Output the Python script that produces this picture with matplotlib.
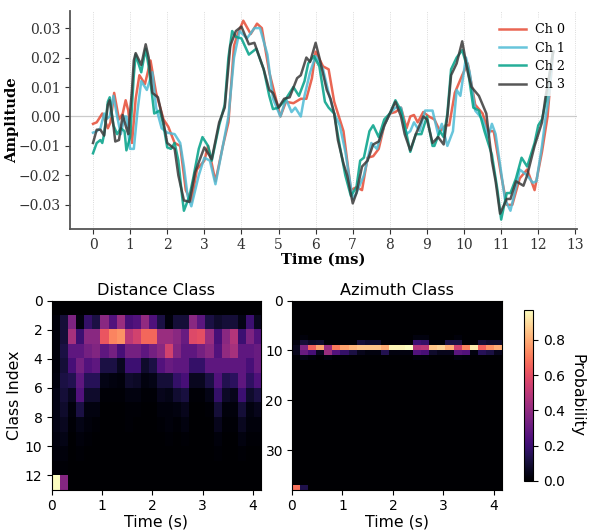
import numpy as np
import matplotlib
matplotlib.use("Agg")
import matplotlib.pyplot as plt

W, H = 598, 530

# waveform (value in 1e-3)
ch0_t = [0, .1, .25, .4, .47, .57, .7, .8, .88, .95, 1.05, 1.15, 1.25, 1.4, 1.55, 1.7, 1.9, 2.03, 2.2, 2.35, 2.5, 2.65, 2.8, 3.0, 3.1, 3.3, 3.5, 3.65, 3.8, 3.9, 4.05, 4.25, 4.42, 4.55, 4.75, 5.05, 5.2, 5.4, 5.6, 5.75, 5.9, 6.0, 6.2, 6.35, 6.5, 6.75, 6.95, 7.1, 7.25, 7.4, 7.55, 7.7, 7.85, 8.0, 8.15, 8.3, 8.45, 8.55, 8.65, 8.75, 8.9, 9.05, 9.2, 9.35, 9.5, 9.6, 9.75, 9.95, 10.1, 10.3, 10.5, 10.65, 10.8, 11.0, 11.15, 11.3, 11.5, 11.7, 11.9, 12.1, 12.25, 12.35, 12.4]
ch0_v = [-2.5, -2, 1, -4, -2, 8, -1, 1, 5.5, 2, -9, 6, 14, 11, 19, 8, -1, -3.5, -9, -10, -25, -29, -18, -15, -10, -22, -10, -2, 24, 28, 32.5, 28, 31.5, 30, 15, 0, 5, 4.5, 6, 6, 13, 22, 17, 16, 5, -5, -25, -24, -25, -14, -13.5, -11, -3, 1, 1.5, 3, -4, 0, .5, -2, 1.5, 0, -1, -5, -3, -3, 8, 14, 18, 4, 1, -5, -5, -20, -30, -30, -21, -18, -25, -12, 0, 15, 22]

ch1_t = [0, .1, .2, .3, .35, .45, .55, .65, .75, .85, .9, 1.0, 1.1, 1.2, 1.3, 1.45, 1.6, 1.7, 1.85, 2.0, 2.2, 2.35, 2.45, 2.55, 2.65, 2.85, 3.0, 3.15, 3.3, 3.5, 3.65, 3.8, 3.95, 4.15, 4.35, 4.5, 4.7, 4.85, 5.05, 5.2, 5.35, 5.45, 5.6, 5.7, 5.85, 6.0, 6.2, 6.35, 6.5, 6.65, 6.8, 7.0, 7.1, 7.3, 7.5, 7.65, 7.85, 8.0, 8.15, 8.3, 8.45, 8.55, 8.65, 8.8, 8.95, 9.15, 9.3, 9.4, 9.55, 9.7, 9.8, 9.9, 10.05, 10.15, 10.3, 10.5, 10.65, 10.75, 10.85, 11.0, 11.1, 11.25, 11.4, 11.5, 11.7, 11.85, 11.95, 12.1, 12.2, 12.3, 12.4]
ch1_v = [-5.5, -5, -4, 1, -1, 0, 7, 0, -6, 0, 0, -11, -11, 2, 12, 9, 15, 3, -4, -5.5, -6, -9, -17, -27, -30.5, -20, -14, -15, -23, -10, 0, 20, 29, 26.5, 30, 30, 21, 6, 0, 6, 1.5, 3, 0, 7, 15, 20.5, 16, 8, 1, -3, -12, -28, -26, -20, -9, -11, -3, 1, 3, 3, -6, -5, -2, -5, 2, 2, -6, -2.5, -10, -5, 9, 7, 20, 15, 2, -1, -7, -2.5, -6, -19, -28, -32, -24, -18, -20, -22.5, -22, -10, 0, 8, 22]

ch2_t = [0, .1, .2, .25, .3, .4, .45, .55, .65, .75, .85, .9, 1.0, 1.1, 1.15, 1.3, 1.42, 1.5, 1.65, 1.8, 1.9, 2.0, 2.1, 2.2, 2.3, 2.4, 2.45, 2.6, 2.7, 2.85, 2.95, 3.1, 3.2, 3.4, 3.55, 3.65, 3.75, 3.85, 4.0, 4.2, 4.3, 4.4, 4.6, 4.75, 4.85, 5.0, 5.2, 5.4, 5.55, 5.7, 5.8, 5.95, 6.1, 6.25, 6.35, 6.5, 6.65, 6.8, 6.95, 7.1, 7.2, 7.3, 7.45, 7.55, 7.7, 7.85, 8.0, 8.15, 8.3, 8.45, 8.55, 8.7, 8.85, 9.0, 9.15, 9.2, 9.35, 9.45, 9.55, 9.65, 9.8, 9.95, 10.1, 10.25, 10.4, 10.55, 10.75, 10.9, 11.0, 11.15, 11.25, 11.4, 11.55, 11.7, 11.9, 12.0, 12.1, 12.2, 12.3, 12.4]
ch2_v = [-12.5, -9, -8, -9, -6, 5, 6.5, -3, -6, -4, -5, -11.5, -7, 14, 21, 15, 23, 17, 1, 2, -3, -10.5, -11, -9, -15, -27, -32, -27, -21, -11, -7, -10, -15, -3, 4, 20, 29, 27, 26.5, 21, 22, 23, 16, 7, 2.5, 3, 6, 10, 7, 12, 18, 20.5, 17, 5, 3, 1, -10, -20, -27, -24, -15, -14, -5, -3, -7, -1, 1, 5.5, 2, -6, -12, -6, -6, 0, -10, -10, -5, -7, 1, 16, 20, 22.5, 16, 3, 2, -5, -13, -25, -35, -26, -26, -21, -14, -17, -9, -3, -1, 5, 14, 22]

ch3_t = [0, .1, .2, .3, .4, .45, .55, .6, .7, .8, .9, .95, 1.05, 1.1, 1.15, 1.3, 1.42, 1.5, 1.6, 1.75, 1.9, 2.0, 2.2, 2.3, 2.45, 2.6, 2.75, 3.0, 3.2, 3.4, 3.55, 3.7, 3.85, 4.0, 4.2, 4.35, 4.6, 4.75, 4.85, 5.0, 5.15, 5.3, 5.5, 5.6, 5.75, 5.85, 6.0, 6.1, 6.3, 6.4, 6.5, 6.6, 6.75, 6.85, 7.0, 7.1, 7.25, 7.4, 7.55, 7.7, 7.85, 8.0, 8.15, 8.3, 8.4, 8.55, 8.7, 8.9, 9.0, 9.15, 9.3, 9.45, 9.55, 9.65, 9.8, 9.95, 10.1, 10.2, 10.4, 10.6, 10.75, 10.85, 10.97, 11.15, 11.25, 11.4, 11.6, 11.7, 11.9, 12.1, 12.2, 12.3, 12.4]
ch3_v = [-9, -4.5, -4.5, -6.5, 4, 5.5, -3, -8.5, -8, .5, -4, -6, 9, 19, 21.5, 17.5, 24.5, 20, 8, 6.5, -2, -9, -11, -20, -28.5, -29, -19, -10.5, -14.5, -2, 3, 24, 29, 30.5, 24.5, 25, 16, 9, 8, 3, 6, 6.5, 13, 14, 20, 18.5, 25, 20, 9, 6, 1, -8, -16, -20, -29.5, -26, -17, -15, -9.5, -8.5, -3, 1, 5, -0, -6, -11.5, -6, 0, -1, -9, -7, -9.5, 0, 14, 18, 25.5, 15, 10, 7, 1, -15, -22, -33, -28, -28, -22, -23.5, -20, -10, -2, 7, 14, 22]

channels = ["Ch 0", "Ch 1", "Ch 2", "Ch 3"]
colors = ["#E64B35", "#4DBBD5", "#00A087", "#3A3A3A"]

# class probabilities over time, 26 frames of 0.16 s
frame_s = 0.16
distance = np.zeros((13, 26))
distance[1] = [.02, .1, .35, .03, .18, .12, .38, .25, .42, .22, .25, .4, .24, .12, .02, .1, .1, .38, .27, .12, .08, .1, .1, .04, .2, .06]
distance[2] = [.02, .1, .45, .2, .38, .38, .62, .72, .75, .5, .55, .66, .66, .42, .42, .38, .3, .58, .6, .42, .22, .38, .48, .2, .35, .25]
distance[3] = [.02, .12, .28, .28, .33, .36, .28, .33, .22, .33, .33, .28, .33, .38, .55, .36, .28, .28, .33, .38, .25, .4, .45, .28, .28, .3]
distance[4] = [.02, .1, .22, .33, .25, .28, .12, .12, .06, .2, .2, .08, .12, .25, .3, .28, .28, .18, .18, .28, .28, .28, .28, .28, .22, .3]
distance[5] = [.03, .12, .14, .28, .15, .15, .04, .03, .02, .08, .07, .03, .04, .1, .1, .18, .22, .06, .06, .12, .25, .14, .16, .28, .17, .24]
distance[6] = [.04, .1, .06, .25, .08, .08, .01, .01, .01, .03, .03, .01, .01, .05, .04, .09, .11, .01, .01, .04, .18, .07, .05, .2, .08, .12]
distance[7] = [.04, .08, .02, .12, .03, .03, 0, 0, 0, .01, .01, 0, 0, .02, .02, .03, .05, 0, 0, .01, .1, .02, .02, .1, .03, .05]
distance[8] = [.04, .06, .01, .04, .02, .01, 0, 0, 0, .01, 0, 0, 0, .01, .02, .01, .03, 0, 0, 0, .05, .01, .01, .06, .02, .02]
distance[9] = [.03, .04, 0, .02, .01, 0, 0, 0, 0, 0, 0, 0, 0, 0, .01, 0, .01, 0, 0, 0, .02, 0, 0, .03, .01, .01]
distance[10] = [.02, .02, 0, .01, 0, 0, 0, 0, 0, 0, 0, 0, 0, 0, 0, 0, 0, 0, 0, 0, .01, 0, 0, .01, 0, 0]
distance[11] = [.01, .01, 0, 0, 0, 0, 0, 0, 0, 0, 0, 0, 0, 0, 0, 0, 0, 0, 0, 0, 0, 0, 0, 0, 0, 0]
distance[12, :2] = [.97, .37]

azimuth = np.zeros((38, 26))
azimuth[7] = [0, .02, 0, 0, 0, 0, 0, 0, 0, 0, 0, 0, 0, 0, 0, .03, .03, 0, 0, 0, .02, 0, 0, 0, 0, 0]
azimuth[8] = [.03, .1, .07, .08, .01, .01, .01, .01, .1, .08, .08, .01, 0, 0, 0, .2, .18, .01, .01, .12, .12, .01, 0, .1, .08, .08]
azimuth[9] = [.06, .35, .65, .78, .42, .7, .78, .82, .85, .85, .85, .8, .95, .95, .97, .48, .5, .85, .88, .8, .55, .72, .93, .65, .75, .8]
azimuth[10] = [.05, .3, .22, .06, .42, .25, .18, .12, .05, .03, .03, .14, .03, .03, .03, .25, .22, .08, .05, .05, .27, .25, .03, .15, .12, .05]
azimuth[11] = [.01, .04, .02, 0, .03, .01, .01, 0, 0, 0, 0, 0, 0, 0, 0, .02, .02, 0, 0, 0, .03, .02, 0, 0, 0, 0]
azimuth[37, :2] = [.68, .13]


def box(left, top, right, bottom):
    # axes rectangle from pixel edges, y counted from the top
    return [left / W, 1 - bottom / H, (right - left) / W, (bottom - top) / H]


fig = plt.figure(figsize=(W / 100, H / 100), dpi=100)

ax = fig.add_axes(box(70, 11, 576.5, 229))
for t, v, name, c in zip([ch0_t, ch1_t, ch2_t, ch3_t], [ch0_v, ch1_v, ch2_v, ch3_v], channels, colors):
    ax.plot(t, np.array(v) * 1e-3, color=c, lw=1.8, alpha=0.85, label=name, solid_joinstyle="round")
ax.axhline(0, color="#999999", lw=0.9, alpha=0.5, zorder=0)
ax.set_xlim(-0.62, 13.03)
ax.set_ylim(-0.0382, 0.0358)
ax.set_xticks(range(14))
ax.set_yticks([-0.03, -0.02, -0.01, 0, 0.01, 0.02, 0.03])
ax.grid(axis="x", color="#bbbbbb", ls=":", lw=0.6, alpha=0.7)
ax.spines["top"].set_visible(False)
ax.spines["right"].set_visible(False)
ax.spines["left"].set_color("#555555")
ax.spines["bottom"].set_color("#555555")
ax.spines["left"].set_linewidth(1.3)
ax.spines["bottom"].set_linewidth(1.3)
ax.tick_params(colors="#333333", labelsize=10, length=3.5, width=0.8, pad=3)
for lab in ax.get_xticklabels() + ax.get_yticklabels():
    lab.set_family("DejaVu Serif")
ax.set_xlabel("Time (ms)", family="DejaVu Serif", weight="bold", fontsize=10.6, labelpad=0.5)
ax.set_ylabel("Amplitude", family="DejaVu Serif", weight="bold", fontsize=10.6, labelpad=0)
ax.legend(loc="upper right", frameon=True, edgecolor="none", framealpha=0.8,
          prop={"family": "DejaVu Serif", "size": 9.2}, handlelength=2.1, handletextpad=0.7,
          labelspacing=0.42, bbox_to_anchor=(0.995, 0.985), borderaxespad=0.3)

ax1 = fig.add_axes(box(51.5, 300.5, 261, 490))
im = ax1.imshow(distance, cmap="magma", vmin=0, vmax=0.97, aspect="auto",
                extent=[0, 26 * frame_s, 13, 0])
ax1.set_yticks(range(0, 13, 2))
ax1.set_ylabel("Class Index", fontsize=11.3, labelpad=2)
ax1.set_title("Distance Class", fontsize=11.6, pad=4)

ax2 = fig.add_axes(box(292, 300.5, 502, 490))
ax2.imshow(azimuth, cmap="magma", vmin=0, vmax=0.97, aspect="auto",
           extent=[0, 26 * frame_s, 38, 0])
ax2.set_yticks(range(0, 38, 10))
ax2.set_title("Azimuth Class", fontsize=11.6, pad=4)

for a in (ax1, ax2):
    a.set_xticks(range(5))
    a.set_xlabel("Time (s)", fontsize=11.3, labelpad=1)
    a.tick_params(labelsize=10, length=3.5, width=0.8, pad=3)

cax = fig.add_axes(box(524, 310, 533, 480.7))
cb = fig.colorbar(im, cax=cax)
cb.set_ticks([0, 0.2, 0.4, 0.6, 0.8])
cb.ax.tick_params(labelsize=10, length=3.5, width=0.8)
cb.set_label("Probability", fontsize=11.3, rotation=270, labelpad=14)

fig.savefig("out.png", dpi=100)
